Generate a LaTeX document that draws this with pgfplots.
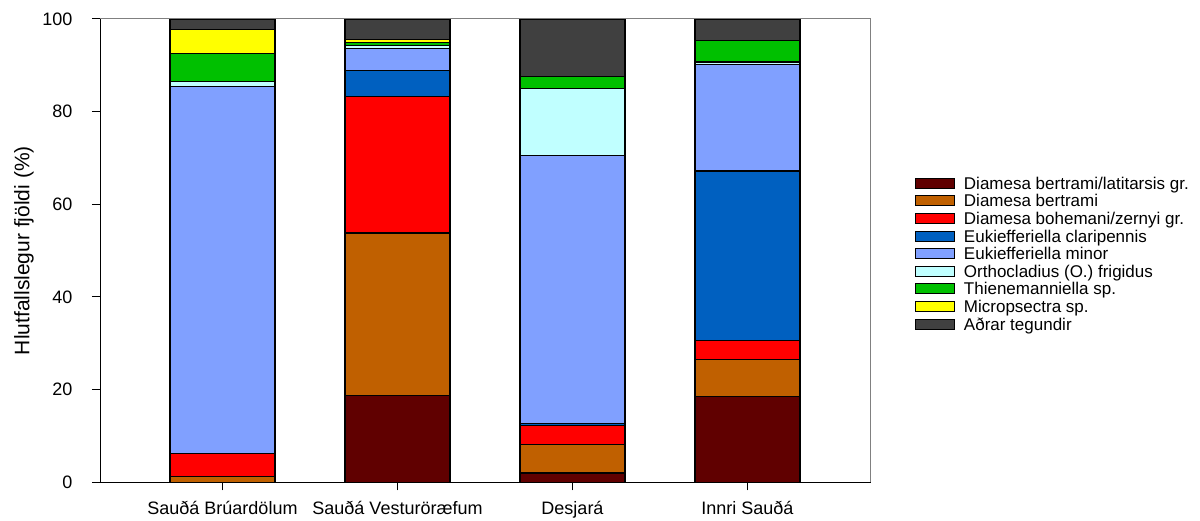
\documentclass[border=0pt]{standalone}
\usepackage{fontspec}
\setmainfont{Liberation Sans}
\usepackage{pgfplots}
\usepackage{pgfplotstable}
\pgfplotsset{compat=1.18}
\definecolor{cA}{RGB}{96,0,0}
\definecolor{cB}{RGB}{192,96,0}
\definecolor{cC}{RGB}{255,0,0}
\definecolor{cD}{RGB}{0,96,192}
\definecolor{cE}{RGB}{128,160,255}
\definecolor{cF}{RGB}{192,255,255}
\definecolor{cG}{RGB}{0,192,0}
\definecolor{cH}{RGB}{255,255,0}
\definecolor{cI}{RGB}{64,64,64}
\pgfplotstableread{
x lat bert boh clar minor ortho thien micro other
0 0    1.2  5.0  0    79.3 1.0  6.1 5.2 2.2
1 18.7 35.1 29.4 5.6  4.9  0.5  0.8 0.5 4.5
2 2.0  6.1  4.1  0.55 57.7 14.5 2.6 0   12.45
3 18.6 7.9  4.1  36.6 22.9 0.6  4.6 0   4.7
}\datatable
\begin{document}
\begin{tikzpicture}
\begin{axis}[
  at={(100pt,38.7pt)}, anchor=south west,
  width=770pt, height=463.3pt, scale only axis,
  ybar stacked, bar width=0.6,
  xmin=-0.7, xmax=3.7, ymin=0, ymax=100,
  xtick={0,1,2,3},
  xticklabels={Sauðá Brúardölum, Sauðá Vesturöræfum, Desjará, Innri Sauðá},
  ytick={0,20,40,60,80,100},
  xtick pos=bottom, ytick pos=left,
  tick align=outside, major tick length=8pt,
  tick style={black, line width=1pt},
  axis line style={black, line width=1pt},
  /pgf/number format/assume math mode=true,
  ticklabel style={font=\fontsize{18}{21}\selectfont},
  yticklabel style={xshift=-16pt},
  xticklabel style={yshift=-7pt},
  every axis y label/.style={at={(axis description cs:-0.0987,0.5)}, rotate=90, anchor=center, font=\fontsize{21}{24}\selectfont},
  ylabel={Hlutfallslegur fjöldi (\%)},
  legend image code/.code={\draw[#1, line width=1pt] (0pt,-2.2pt) rectangle (39pt,7.8pt);},
  legend style={at={(1.0584,0.6583)}, anchor=north west, draw=none, fill=none,
    inner sep=0pt, outer sep=0pt, row sep=0pt,
    font=\fontsize{17}{20}\selectfont,
    nodes={inner sep=0pt, text height=12pt, text depth=5.6pt},
    /tikz/every odd column/.append style={column sep=9pt}},
  legend cell align=left,
  every axis plot/.append style={draw=black, line width=1.2pt},
  after end axis/.code={\draw[gray, line width=1pt] (rel axis cs:0,1) -- (rel axis cs:1,1) -- (rel axis cs:1,0);},
]
\addplot[fill=cA] table[x=x,y=lat]{\datatable};
\addlegendentry{Diamesa bertrami/latitarsis gr.}
\addplot[fill=cB] table[x=x,y=bert]{\datatable};
\addlegendentry{Diamesa bertrami}
\addplot[fill=cC] table[x=x,y=boh]{\datatable};
\addlegendentry{Diamesa bohemani/zernyi gr.}
\addplot[fill=cD] table[x=x,y=clar]{\datatable};
\addlegendentry{Eukiefferiella claripennis}
\addplot[fill=cE] table[x=x,y=minor]{\datatable};
\addlegendentry{Eukiefferiella minor}
\addplot[fill=cF] table[x=x,y=ortho]{\datatable};
\addlegendentry{Orthocladius (O.) frigidus}
\addplot[fill=cG] table[x=x,y=thien]{\datatable};
\addlegendentry{Thienemanniella sp.}
\addplot[fill=cH] table[x=x,y=micro]{\datatable};
\addlegendentry{Micropsectra sp.}
\addplot[fill=cI] table[x=x,y=other]{\datatable};
\addlegendentry{Aðrar tegundir}
\end{axis}
\pgfresetboundingbox
\path (0,0) rectangle (1200pt,521pt);
\end{tikzpicture}
\end{document}
